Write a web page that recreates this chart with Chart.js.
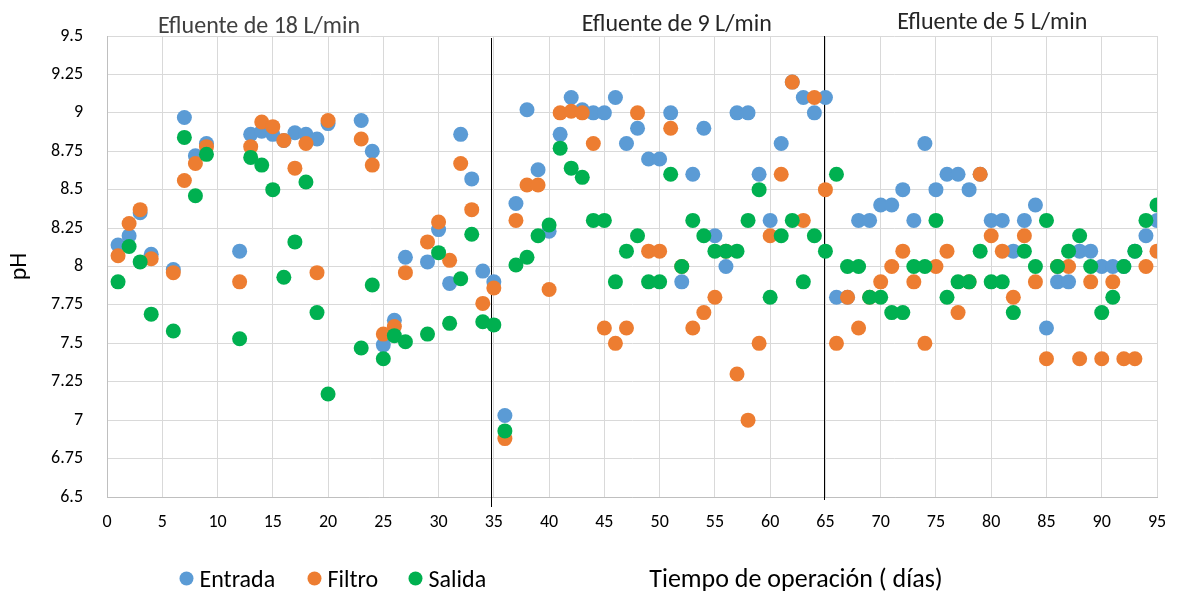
<!DOCTYPE html>
<html>
<head>
<meta charset="utf-8">
<script src="https://cdn.jsdelivr.net/npm/chart.js@4.4.1/dist/chart.umd.min.js"></script>
<style>
  html, body { margin: 0; padding: 0; background: #ffffff; }
  #wrap { width: 1177px; height: 593px; }
</style>
</head>
<body>
<div id="wrap"><canvas id="c" width="1177" height="593"></canvas></div>
<script>
// ---- data ----
const days = [1,2,3,4,6,7,8,9,12,13,14,15,16,17,18,19,20,23,24,25,26,27,29,30,31,32,33,34,35,
  36,37,38,39,40,41,42,43,44,45,46,47,48,49,50,51,52,53,54,55,56,57,58,59,60,61,62,63,64,65,
  66,67,68,69,70,71,72,73,74,75,76,77,78,79,80,81,82,83,84,85,86,87,88,89,90,91,92,93,94,95];

const entrada = [8.14,8.20,8.35,8.08,7.98,8.97,8.72,8.80,8.10,8.86,8.88,8.86,8.82,8.87,8.86,8.83,8.93,8.95,8.75,7.49,7.65,8.06,8.03,8.24,7.89,8.86,8.57,7.97,7.90,
  7.03,8.41,9.02,8.63,8.23,8.86,9.10,9.02,9.00,9.00,9.10,8.80,8.90,8.70,8.70,9.00,7.90,8.60,8.90,8.20,8.00,9.00,9.00,8.60,8.30,8.80,9.20,9.10,9.00,9.10,
  7.80,7.80,8.30,8.30,8.40,8.40,8.50,8.30,8.80,8.50,8.60,8.60,8.50,8.60,8.30,8.30,8.10,8.30,8.40,7.60,7.90,7.90,8.10,8.10,8.00,8.00,8.00,8.10,8.20,8.30];

const filtro = [8.07,8.28,8.37,8.05,7.96,8.56,8.67,8.78,7.90,8.78,8.94,8.91,8.82,8.64,8.80,7.96,8.95,8.83,8.66,7.56,7.61,7.96,8.16,8.29,8.04,8.67,8.37,7.76,7.86,
  6.88,8.30,8.53,8.53,7.85,9.00,9.01,9.00,8.80,7.60,7.50,7.60,9.00,8.10,8.10,8.90,8.00,7.60,7.70,7.80,8.10,7.30,7.00,7.50,8.20,8.60,9.20,8.30,9.10,8.50,
  7.50,7.80,7.60,7.80,7.90,8.00,8.10,7.90,7.50,8.00,8.10,7.70,7.90,8.60,8.20,8.10,7.80,8.20,7.90,7.40,8.00,8.00,7.40,7.90,7.40,7.90,7.40,7.40,8.00,8.10];

const salida = [7.90,8.13,8.03,7.69,7.58,8.84,8.46,8.73,7.53,8.71,8.66,8.50,7.93,8.16,8.55,7.70,7.17,7.47,7.88,7.40,7.55,7.51,7.56,8.09,7.63,7.92,8.21,7.64,7.62,
  6.93,8.01,8.06,8.20,8.27,8.77,8.64,8.58,8.30,8.30,7.90,8.10,8.20,7.90,7.90,8.60,8.00,8.30,8.20,8.10,8.10,8.10,8.30,8.50,7.80,8.20,8.30,7.90,8.20,8.10,
  8.60,8.00,8.00,7.80,7.80,7.70,7.70,8.00,8.00,8.30,7.80,7.90,7.90,8.10,7.90,7.90,7.70,8.10,8.00,8.30,8.00,8.10,8.20,8.00,7.70,7.80,8.00,8.10,8.30,8.40];

const seriesNames = ['Entrada', 'Filtro', 'Salida'];
const xTickLabels = ['0','5','10','15','20','25','30','35','40','45','50','55','60','65','70','75','80','85','90','95'];
const yTickLabels = ['6.5','6.75','7','7.25','7.5','7.75','8','8.25','8.5','8.75','9','9.25','9.5'];
const phaseBoundaries = [34.7, 64.9];
const phaseLabels = ['Efluente de 18 L/min', 'Efluente de 9 L/min', 'Efluente de 5 L/min'];
const xTitle = 'Tiempo de operación ( días)';
const yTitle = 'pH';

// ---- styles ----
const colors = ['#5B9BD5', '#ED7D31', '#00B050'];
const FONT = "Carlito, 'Liberation Sans', Arial, sans-serif";

function pts(vals) { return days.map((d, i) => ({ x: d, y: vals[i] })); }

const xTickVals = xTickLabels.map(Number);
const yTickVals = yTickLabels.map(Number);

const overlay = {
  id: 'overlay',
  beforeDatasetsDraw(chart) {
    const ctx = chart.ctx, xs = chart.scales.x, ys = chart.scales.y;
    ctx.save();
    ctx.strokeStyle = '#000000';
    ctx.lineWidth = 1;
    const ext = [[ys.top + 2, ys.bottom + 10], [ys.top, ys.bottom + 3]];
    phaseBoundaries.forEach((b, i) => {
      const px = Math.round(xs.getPixelForValue(b)) + 0.5;
      ctx.beginPath();
      ctx.moveTo(px, ext[i][0]);
      ctx.lineTo(px, ext[i][1]);
      ctx.stroke();
    });
    ctx.restore();
  },
  afterDraw(chart) {
    const ctx = chart.ctx, xs = chart.scales.x;
    ctx.save();
    // phase labels
    ctx.font = '24px ' + FONT;
    ctx.textAlign = 'center';
    ctx.textBaseline = 'alphabetic';
    const labelX = [13.75, 51.55, 80.1];
    const labelY = [32.5, 31, 29];
    const labelColor = ['#404040', '#262626', '#262626'];
    phaseLabels.forEach((t, i) => {
      ctx.fillStyle = labelColor[i];
      ctx.fillText(t, xs.getPixelForValue(labelX[i]), labelY[i]);
    });
    // x title
    ctx.font = '26px ' + FONT;
    ctx.fillStyle = '#000000';
    ctx.fillText(xTitle, 796, 587);
    // legend
    ctx.font = '24px ' + FONT;
    ctx.textAlign = 'left';
    const lx = [186.5, 314.5, 415.5];
    seriesNames.forEach((n, i) => {
      ctx.fillStyle = colors[i];
      ctx.beginPath();
      ctx.arc(lx[i], 578.5, 7, 0, Math.PI * 2);
      ctx.fill();
      ctx.fillStyle = '#000000';
      ctx.fillText(n, lx[i] + 13, 586.5);
    });
    ctx.restore();
  }
};

new Chart(document.getElementById('c'), {
  type: 'scatter',
  data: {
    datasets: [entrada, filtro, salida].map((v, i) => ({
      label: seriesNames[i],
      data: pts(v),
      backgroundColor: colors[i],
      borderColor: colors[i],
      borderWidth: 0,
      pointRadius: 7.5,
      pointHoverRadius: 7.5,
      order: 3 - i
    }))
  },
  options: {
    responsive: false,
    animation: false,
    events: [],
    layout: { padding: { left: 0, right: 0, top: 36, bottom: 0 } },
    plugins: { legend: { display: false }, tooltip: { enabled: false } },
    scales: {
      x: {
        type: 'linear',
        min: 0, max: 95,
        afterBuildTicks(s) { s.ticks = xTickVals.map(v => ({ value: v })); },
        afterFit(s) { s.height = 96; s.paddingRight = 20; },
        ticks: {
          callback: (v) => xTickLabels[xTickVals.indexOf(v)] ?? '',
          font: { size: 18, family: FONT },
          color: '#000000',
          padding: 15,
          maxRotation: 0,
          autoSkip: false
        },
        grid: { color: '#D9D9D9', lineWidth: 1, drawTicks: false },
        border: { color: '#BFBFBF', width: 1 }
      },
      y: {
        min: 6.5, max: 9.5,
        afterBuildTicks(s) { s.ticks = yTickVals.map(v => ({ value: v })); },
        afterFit(s) { s.width = 107; },
        ticks: {
          callback: (v) => yTickLabels[yTickVals.indexOf(v)] ?? '',
          font: { size: 18, family: FONT },
          color: '#000000',
          padding: 24,
          autoSkip: false
        },
        title: {
          display: true,
          text: yTitle,
          font: { size: 24, family: FONT },
          color: '#000000',
          padding: { top: 6, bottom: 0 }
        },
        grid: { color: '#D9D9D9', lineWidth: 1, drawTicks: false },
        border: { color: '#BFBFBF', width: 1 }
      }
    }
  },
  plugins: [overlay]
});
</script>
</body>
</html>
